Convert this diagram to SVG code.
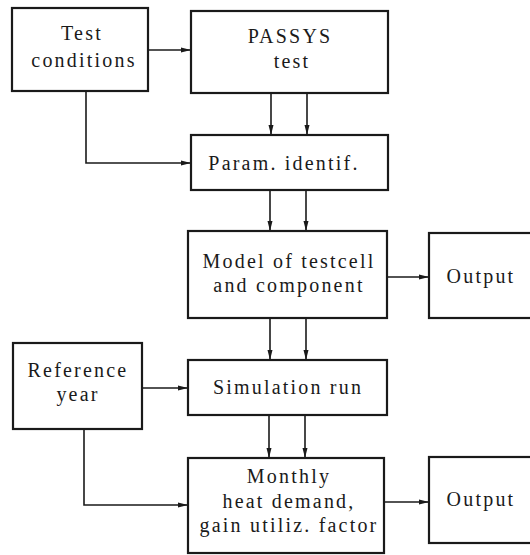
<svg xmlns="http://www.w3.org/2000/svg" width="530" height="555" viewBox="0 0 530 555">
<defs>
<marker id="ah" markerWidth="10" markerHeight="6" refX="9" refY="3" orient="auto" markerUnits="userSpaceOnUse">
<path d="M0,0.5 L10,3 L0,5.5 Z" fill="#1a1a1a"/>
</marker>
<style>
.box{fill:#fff;stroke:#1a1a1a;stroke-width:2.2}
.t{font-family:"Liberation Serif","DejaVu Serif",serif;font-size:20px;letter-spacing:2.2px;fill:#1a1a1a;text-anchor:middle}
.c{fill:none;stroke:#1a1a1a;stroke-width:1.6;marker-end:url(#ah)}
</style>
</defs>
<rect width="530" height="555" fill="#fff"/>
<g id="connectors">
<path class="c" d="M148,50 H190"/>
<path class="c" d="M271,93 V134"/>
<path class="c" d="M307,93 V134"/>
<path class="c" d="M86,91 V163 H190"/>
<path class="c" d="M270,190 V230"/>
<path class="c" d="M306,190 V230"/>
<path class="c" d="M387,277 H428"/>
<path class="c" d="M270,318 V359"/>
<path class="c" d="M306,318 V359"/>
<path class="c" d="M142,388 H187"/>
<path class="c" d="M269,415 V457"/>
<path class="c" d="M305,415 V457"/>
<path class="c" d="M84,429 V505 H187"/>
<path class="c" d="M384,502 H428"/>
</g>
<g id="test-conditions">
<rect class="box" x="12" y="8" width="136" height="83"/>
<text class="t" x="82" y="40">Test</text>
<text class="t" x="84" y="67">conditions</text>
</g>
<g id="passys-test">
<rect class="box" x="191" y="11" width="197" height="82"/>
<text class="t" x="290" y="43">PASSYS</text>
<text class="t" x="292" y="68">test</text>
</g>
<g id="param-identif">
<rect class="box" x="191" y="135" width="197" height="55"/>
<text class="t" x="284" y="170">Param. identif.</text>
</g>
<g id="model">
<rect class="box" x="188" y="231" width="199" height="87"/>
<text class="t" x="289" y="268">Model of testcell</text>
<text class="t" x="289" y="292">and component</text>
</g>
<g id="output1">
<rect class="box" x="429" y="233" width="103" height="85"/>
<text class="t" x="481" y="283">Output</text>
</g>
<g id="reference-year">
<rect class="box" x="13" y="343" width="129" height="86"/>
<text class="t" x="78" y="377">Reference</text>
<text class="t" x="78" y="401">year</text>
</g>
<g id="simulation-run">
<rect class="box" x="188" y="360" width="199" height="55"/>
<text class="t" x="288" y="394">Simulation run</text>
</g>
<g id="monthly">
<rect class="box" x="188" y="458" width="196" height="95"/>
<text class="t" x="289" y="483">Monthly</text>
<text class="t" x="289" y="508">heat demand,</text>
<text class="t" x="289" y="532">gain utiliz. factor</text>
</g>
<g id="output2">
<rect class="box" x="429" y="457" width="103" height="86"/>
<text class="t" x="481" y="506">Output</text>
</g>
</svg>
